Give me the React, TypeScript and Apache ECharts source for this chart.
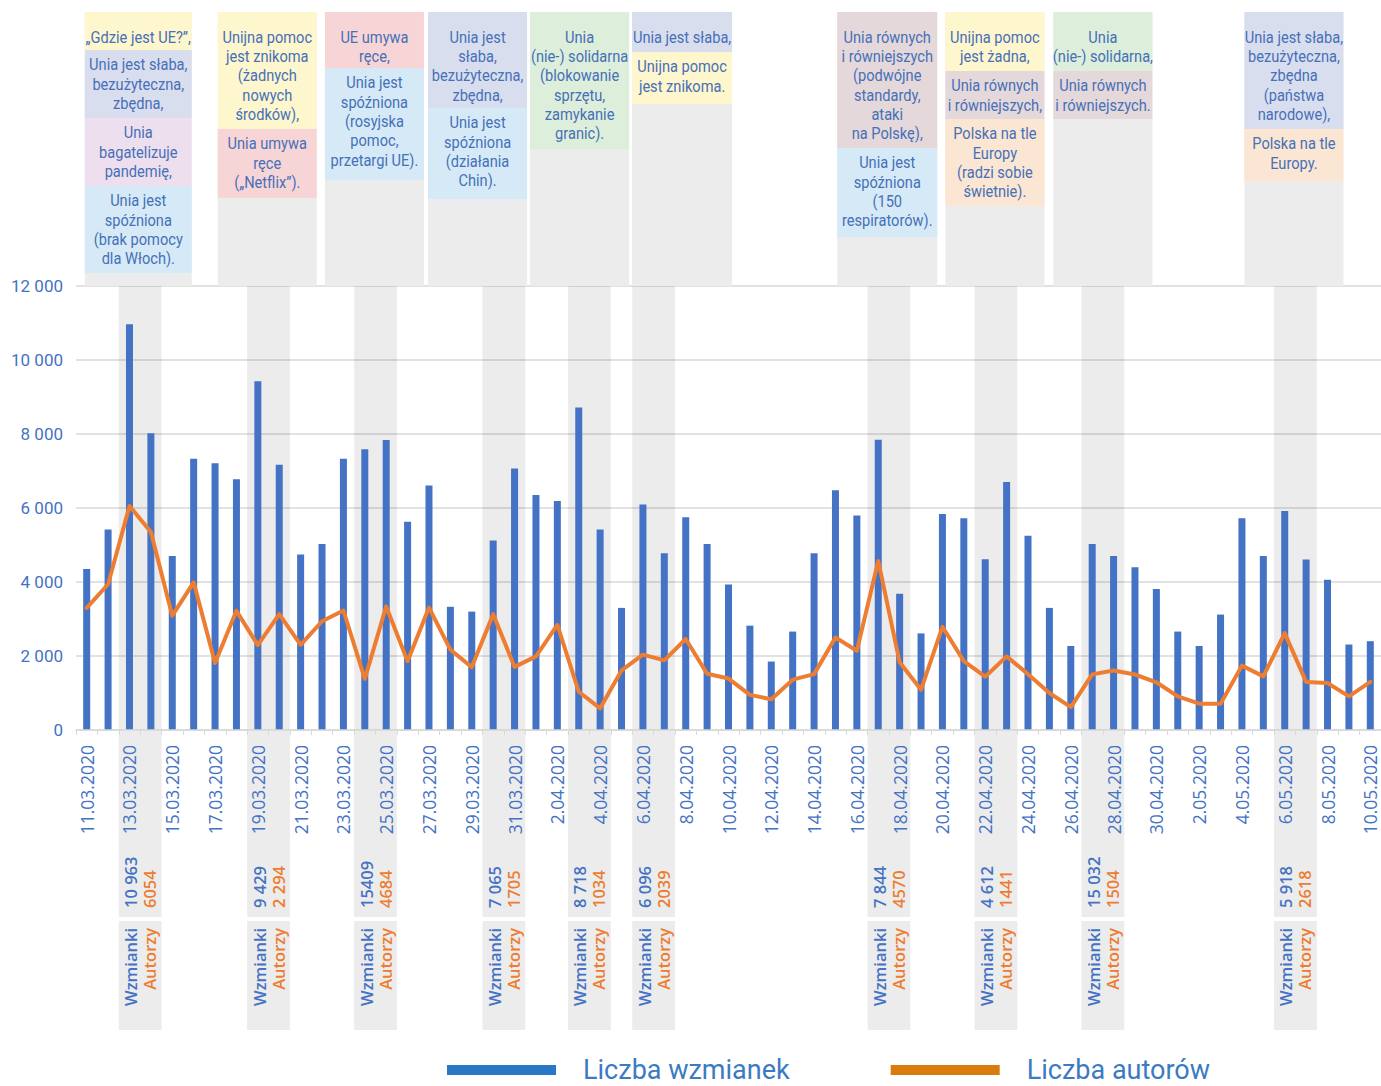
import React, { useEffect, useRef } from "react";
import * as echarts from "echarts";

// ---------- DATA ----------
const DATES = [
  "11.03.2020", "12.03.2020", "13.03.2020", "14.03.2020", "15.03.2020", "16.03.2020", "17.03.2020",
  "18.03.2020", "19.03.2020", "20.03.2020", "21.03.2020", "22.03.2020", "23.03.2020", "24.03.2020",
  "25.03.2020", "26.03.2020", "27.03.2020", "28.03.2020", "29.03.2020", "30.03.2020", "31.03.2020",
  "1.04.2020", "2.04.2020", "3.04.2020", "4.04.2020", "5.04.2020", "6.04.2020", "7.04.2020",
  "8.04.2020", "9.04.2020", "10.04.2020", "11.04.2020", "12.04.2020", "13.04.2020", "14.04.2020",
  "15.04.2020", "16.04.2020", "17.04.2020", "18.04.2020", "19.04.2020", "20.04.2020", "21.04.2020",
  "22.04.2020", "23.04.2020", "24.04.2020", "25.04.2020", "26.04.2020", "27.04.2020", "28.04.2020",
  "29.04.2020", "30.04.2020", "1.05.2020", "2.05.2020", "3.05.2020", "4.05.2020", "5.05.2020",
  "6.05.2020", "7.05.2020", "8.05.2020", "9.05.2020", "10.05.2020",
];

const MENTIONS = [
  4350, 5420, 10963, 8020, 4700, 7330, 7210, 6780, 9429, 7170,
  4740, 5030, 7330, 7590, 7840, 5630, 6610, 3330, 3200, 5120,
  7065, 6350, 6190, 8718, 5420, 3300, 6096, 4780, 5750, 5030,
  3930, 2820, 1850, 2660, 4780, 6480, 5800, 7844, 3680, 2610,
  5840, 5720, 4612, 6700, 5250, 3300, 2270, 5030, 4700, 4400,
  3810, 2660, 2270, 3120, 5720, 4700, 5918, 4610, 4060, 2310,
  2400,
];

const AUTHORS = [
  3300, 3940, 6054, 5350, 3090, 3990, 1810, 3220, 2294, 3130,
  2300, 2940, 3230, 1380, 3340, 1860, 3310, 2170, 1700, 3130,
  1705, 1990, 2840, 1034, 585, 1610, 2039, 1880, 2460, 1520,
  1390, 950, 830, 1360, 1510, 2500, 2140, 4570, 1830, 1090,
  2790, 1860, 1441, 1990, 1510, 1000, 620, 1504, 1610, 1500,
  1290, 910, 710, 710, 1740, 1450, 2618, 1300, 1270, 910,
  1300,
];

const Y_TICKS = [0, 2000, 4000, 6000, 8000, 10000, 12000];

const SERIES_NAMES = ["Liczba wzmianek", "Liczba autorów"];

// highlighted two-day windows (index of first day)
const HIGHLIGHT_START = [2, 8, 13, 19, 23, 26, 37, 42, 47, 56];
const HIGHLIGHT_MENTIONS = ["10 963", "9 429", "15409", "7 065", "8 718", "6 096", "7 844", "4 612", "15 032", "5 918"];
const HIGHLIGHT_AUTHORS = ["6054", "2 294", "4684", "1705", "1034", "2039", "4570", "1441", "1504", "2618"];
const HIGHLIGHT_NAMES = ["Wzmianki", "Autorzy"];

// narrative notes above the chart
const NOTE_TEXTS = [
  ["„Gdzie jest UE?”,", "Unia jest słaba,\nbezużyteczna,\nzbędna,", "Unia\nbagatelizuje\npandemię,", "Unia jest\nspóźniona\n(brak pomocy\ndla Włoch)."],
  ["Unijna pomoc\njest znikoma\n(żadnych\nnowych\nśrodków),", "Unia umywa\nręce\n(„Netflix”)."],
  ["UE umywa\nręce,", "Unia jest\nspóźniona\n(rosyjska\npomoc,\nprzetargi UE)."],
  ["Unia jest\nsłaba,\nbezużyteczna,\nzbędna,", "Unia jest\nspóźniona\n(działania\nChin)."],
  ["Unia\n(nie-) solidarna\n(blokowanie\nsprzętu,\nzamykanie\ngranic)."],
  ["Unia jest słaba,", "Unijna pomoc\njest znikoma."],
  ["Unia równych\ni równiejszych\n(podwójne\nstandardy,\nataki\nna Polskę),", "Unia jest\nspóźniona\n(150\nrespiratorów)."],
  ["Unijna pomoc\njest żadna,", "Unia równych\ni równiejszych,", "Polska na tle\nEuropy\n(radzi sobie\nświetnie)."],
  ["Unia\n(nie-) solidarna,", "Unia równych\ni równiejszych."],
  ["Unia jest słaba,\nbezużyteczna,\nzbędna\n(państwa\nnarodowe),", "Polska na tle\nEuropy."],
];
const NOTE_TONES = [
  ["yellow", "slate", "lilac", "sky"],
  ["yellow", "rose"],
  ["rose", "sky"],
  ["slate", "sky"],
  ["mint"],
  ["slate", "yellow"],
  ["mauve", "sky"],
  ["yellow", "mauve", "peach"],
  ["mint", "mauve"],
  ["slate", "peach"],
];

// ---------- LAYOUT / STYLE ----------
const NOTE_CENTER = [2.41, 8.44, 13.45, 18.27, 23.04, 27.83, 37.42, 42.45, 47.5, 56.43]; // in category steps from first category
const NOTE_WIDTH = [107, 99, 99, 99, 99, 100, 100, 99, 99, 99];
const NOTE_HEIGHTS = [
  [38, 68, 68, 87],
  [117, 69],
  [56, 112],
  [96, 91],
  [137],
  [40, 52],
  [136, 89],
  [59, 48, 87],
  [59, 48],
  [117, 52],
];
const NOTE_TOP = 12;
const NOTE_LINE = 19.3;
const NOTE_FIRST_PAD = 25; // first line centre below block top (top block)
const NOTE_PAD = 14.5; // first line centre below block top (lower blocks)
const TONE_COLORS: Record<string, string> = {
  yellow: "#FEF6CD",
  slate: "#D9DEEE",
  lilac: "#EEDFEF",
  sky: "#D5EAF6",
  rose: "#F7D5D6",
  mint: "#DDEEDB",
  mauve: "#E4D8DA",
  peach: "#FAE6D3",
};
const GRAY = "#ECECEC";
const BLUE = "#4472C4";
const ORANGE = "#ED7D31";
const NOTE_TEXT = "#4670B8";

const Y_MAX = Y_TICKS[Y_TICKS.length - 1];

function fmt(v: number) {
  if (v < 1000) return String(v);
  return `${Math.floor(v / 1000)} ${String(v % 1000).padStart(3, "0")}`;
}

function renderBand(params: any, api: any) {
  const k = api.value(2);
  const i = api.value(0);
  const bw = api.size([1, 0])[0];
  const p0 = api.coord([i, 0]);
  const top = api.coord([i, Y_MAX])[1];
  const left = p0[0] - bw / 2;
  const w = bw * 2;
  const cx = left + w / 2;
  const axisY = p0[1];
  const numFont = { fontFamily: "'Open Sans', sans-serif", fontSize: 16.5, fontWeight: 600 };
  return {
    type: "group",
    children: [
      { type: "rect", shape: { x: left, y: top, width: w, height: axisY - top }, style: { fill: "rgba(0,0,0,0.075)" } },
      { type: "rect", shape: { x: left, y: axisY, width: w, height: 187 }, style: { fill: GRAY } },
      { type: "rect", shape: { x: left, y: axisY + 191, width: w, height: 109 }, style: { fill: GRAY } },
      {
        type: "text", x: cx - 9.5, y: axisY + 178, rotation: Math.PI / 2,
        style: { text: HIGHLIGHT_MENTIONS[k], fill: BLUE, align: "left", verticalAlign: "middle", ...numFont },
      },
      {
        type: "text", x: cx + 9.5, y: axisY + 178, rotation: Math.PI / 2,
        style: { text: HIGHLIGHT_AUTHORS[k], fill: ORANGE, align: "left", verticalAlign: "middle", ...numFont },
      },
      {
        type: "text", x: cx - 9.5, y: axisY + 198, rotation: Math.PI / 2,
        style: { text: HIGHLIGHT_NAMES[0], fill: BLUE, align: "right", verticalAlign: "middle", ...numFont },
      },
      {
        type: "text", x: cx + 9.5, y: axisY + 198, rotation: Math.PI / 2,
        style: { text: HIGHLIGHT_NAMES[1], fill: ORANGE, align: "right", verticalAlign: "middle", ...numFont },
      },
    ],
  };
}

function renderNote(params: any, api: any) {
  const k = api.value(2);
  const bw = api.size([1, 0])[0];
  const first = api.coord([0, Y_MAX]);
  const plotTop = first[1];
  const cx = first[0] + NOTE_CENTER[k] * bw;
  const w = NOTE_WIDTH[k];
  const left = cx - w / 2;
  const children: any[] = [
    { type: "rect", shape: { x: left, y: NOTE_TOP, width: w, height: plotTop - NOTE_TOP }, style: { fill: GRAY } },
  ];
  let y = NOTE_TOP;
  NOTE_TEXTS[k].forEach((t, j) => {
    const h = NOTE_HEIGHTS[k][j];
    children.push({
      type: "rect",
      shape: { x: left, y, width: w, height: h },
      style: { fill: TONE_COLORS[NOTE_TONES[k][j]] },
    });
    const pad = j === 0 ? NOTE_FIRST_PAD : NOTE_PAD;
    children.push({
      type: "text",
      x: cx,
      y: y + pad - NOTE_LINE / 2,
      scaleX: 0.86,
      style: {
        text: t,
        fill: NOTE_TEXT,
        fontFamily: "Roboto, sans-serif",
        fontSize: 17,
        lineHeight: NOTE_LINE,
        align: "center",
        verticalAlign: "top",
      },
    });
    y += h;
  });
  return { type: "group", children };
}

export default function App() {
  const ref = useRef<HTMLDivElement>(null);
  useEffect(() => {
    if (!ref.current) return;
    const chart = echarts.init(ref.current, null, { renderer: "svg" });
    const option: any = {
      animation: false,
      backgroundColor: "#ffffff",
      grid: { left: 76, right: 0, top: 286, bottom: 356, containLabel: false },
      legend: {
        left: 442,
        top: 1051,
        itemWidth: 109,
        itemHeight: 10,
        itemGap: 101,
        selectedMode: false,
        textStyle: {
          fontFamily: "Roboto, sans-serif",
          fontSize: 27,
          lineHeight: 28,
          color: "#3B7BC2",
          padding: [0, 0, 0, 22],
        },
        data: [
          { name: SERIES_NAMES[0], icon: "rect", itemStyle: { color: "#2878C6" } },
          { name: SERIES_NAMES[1], icon: "rect", itemStyle: { color: "#D97B0D" } },
        ],
      },
      xAxis: {
        type: "category",
        data: DATES,
        boundaryGap: true,
        z: 4,
        axisLine: { lineStyle: { color: "#D9D9D9", width: 1.5 } },
        axisTick: { show: true, interval: 0, length: 5, lineStyle: { color: "#D9D9D9" } },
        axisLabel: {
          interval: 1,
          rotate: 90,
          margin: 15,
          color: BLUE,
          fontFamily: "'Open Sans', sans-serif",
          fontSize: 17.5,
        },
      },
      yAxis: {
        type: "value",
        min: Y_TICKS[0],
        max: Y_MAX,
        interval: Y_TICKS[1] - Y_TICKS[0],
        axisLine: { show: false },
        axisTick: { show: false },
        splitLine: { lineStyle: { color: "#D9D9D9", width: 1.5 } },
        axisLabel: {
          margin: 13,
          color: BLUE,
          fontFamily: "Roboto, sans-serif",
          fontSize: 17,
          formatter: (v: number) => fmt(v),
        },
      },
      series: [
        {
          type: "custom",
          name: "bands",
          coordinateSystem: "cartesian2d",
          clip: false,
          silent: true,
          z: 1,
          encode: { x: 0, y: 1 },
          data: HIGHLIGHT_START.map((s, k) => [s, 0, k]),
          renderItem: renderBand,
        },
        {
          type: "custom",
          name: "notes",
          coordinateSystem: "cartesian2d",
          clip: false,
          silent: true,
          z: 1,
          encode: { x: 0, y: 1 },
          data: NOTE_TEXTS.map((_, k) => [0, 0, k]),
          renderItem: renderNote,
        },
        {
          type: "bar",
          name: SERIES_NAMES[0],
          data: MENTIONS,
          barWidth: 7,
          itemStyle: { color: BLUE },
          z: 2,
        },
        {
          type: "line",
          name: SERIES_NAMES[1],
          data: AUTHORS,
          symbol: "none",
          lineStyle: { color: ORANGE, width: 4, join: "round", cap: "round" },
          itemStyle: { color: ORANGE },
          z: 3,
        },
      ],
    };
    chart.setOption(option);
    return () => chart.dispose();
  }, []);
  return (
    <div
      ref={ref}
      style={{ position: "absolute", left: 0, top: 0, width: 1381, height: 1086, background: "#fff" }}
    />
  );
}
